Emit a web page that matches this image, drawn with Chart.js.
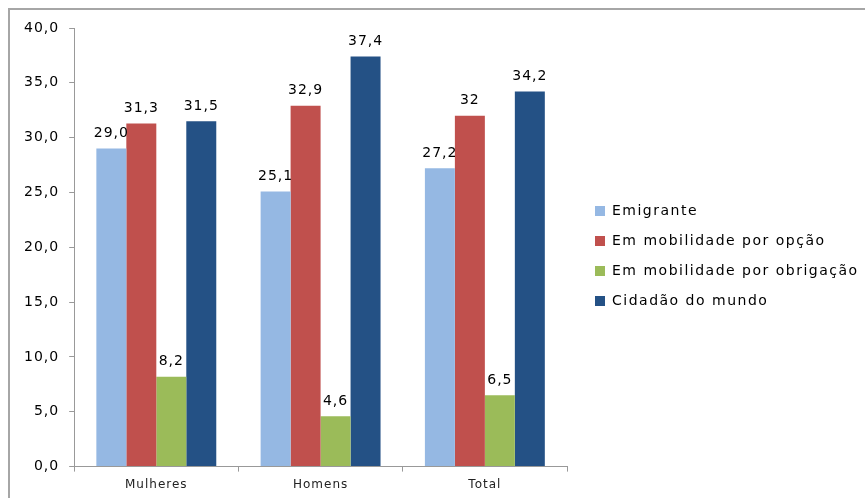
<!DOCTYPE html>
<html>
<head>
<meta charset="utf-8">
<script src="https://cdn.jsdelivr.net/npm/chart.js@4/dist/chart.umd.min.js"></script>
<style>
  html, body { margin: 0; padding: 0; background: #fff; }
  #wrap { width: 865px; height: 498px; position: relative; }
</style>
</head>
<body>
<div id="wrap"><canvas id="c"></canvas></div>
<script>
const categories = ['Mulheres', 'Homens', 'Total'];
const seriesNames = ['Emigrante', 'Em mobilidade por opção', 'Em mobilidade por obrigação', 'Cidadão do mundo'];
const emigrante = [29.0, 25.1, 27.2];
const opcao = [31.3, 32.9, 32.0];
const obrigacao = [8.2, 4.6, 6.5];
const cidadao = [31.5, 37.4, 34.2];
const emigranteLabels = ['29,0', '25,1', '27,2'];
const opcaoLabels = ['31,3', '32,9', '32'];
const obrigacaoLabels = ['8,2', '4,6', '6,5'];
const cidadaoLabels = ['31,5', '37,4', '34,2'];
const yTicks = [0, 5, 10, 15, 20, 25, 30, 35, 40];

const colors = ['#95B8E3', '#C0504D', '#9BBB59', '#245185'];
const allValues = [emigrante, opcao, obrigacao, cidadao];
const allLabels = [emigranteLabels, opcaoLabels, obrigacaoLabels, cidadaoLabels];

const FONT = 'DejaVu Sans';

const framePlugin = {
  id: 'frame',
  beforeInit(chart) { chart.ctx.letterSpacing = '1px'; },
  beforeLayout(chart) { chart.ctx.letterSpacing = '1px'; },
  beforeDraw(chart) {
    const ctx = chart.ctx;
    ctx.letterSpacing = '1px';
    ctx.save();
    ctx.strokeStyle = '#a6a6a6';
    ctx.lineWidth = 2;
    ctx.beginPath();
    ctx.moveTo(9, 498);
    ctx.lineTo(9, 9);
    ctx.lineTo(865, 9);
    ctx.stroke();
    ctx.restore();
  }
};

const labelPlugin = {
  id: 'valueLabels',
  afterDatasetsDraw(chart) {
    const ctx = chart.ctx;
    ctx.save();
    ctx.letterSpacing = '1px';
    ctx.font = '14px "' + FONT + '"';
    ctx.fillStyle = '#000';
    ctx.textAlign = 'center';
    ctx.textBaseline = 'bottom';
    chart.data.datasets.forEach((ds, i) => {
      const meta = chart.getDatasetMeta(i);
      meta.data.forEach((bar, j) => {
        ctx.fillText(allLabels[i][j], bar.x, bar.y - 8);
      });
    });
    ctx.restore();
  }
};

const legendPlugin = {
  id: 'sideLegend',
  afterDraw(chart) {
    const ctx = chart.ctx;
    const area = chart.chartArea;
    const x0 = area.right + 28;
    const midY = 256;
    const rowH = 30;
    const n = chart.data.datasets.length;
    ctx.save();
    ctx.letterSpacing = '1.5px';
    ctx.font = '14px "' + FONT + '"';
    ctx.textAlign = 'left';
    ctx.textBaseline = 'middle';
    chart.data.datasets.forEach((ds, i) => {
      const y = midY + (i - (n - 1) / 2) * rowH;
      ctx.fillStyle = ds.backgroundColor;
      ctx.fillRect(x0, y - 5, 10, 10);
      ctx.fillStyle = '#000';
      ctx.fillText(ds.label, x0 + 17, y);
    });
    ctx.restore();
  }
};

new Chart(document.getElementById('c'), {
  type: 'bar',
  data: {
    labels: categories,
    datasets: seriesNames.map((name, i) => ({
      label: name,
      data: allValues[i],
      backgroundColor: colors[i],
      borderWidth: 0,
      categoryPercentage: 0.73,
      barPercentage: 1.0
    }))
  },
  options: {
    responsive: true,
    maintainAspectRatio: false,
    animation: false,
    devicePixelRatio: 1,
    layout: { padding: { top: 28, left: 14, right: 298, bottom: 0 } },
    plugins: {
      legend: { display: false },
      tooltip: { enabled: false }
    },
    scales: {
      x: {
        grid: { display: true, drawOnChartArea: false, tickLength: 5, color: '#999', offset: true },
        border: { display: true, color: '#999' },
        ticks: { color: '#222', font: { family: FONT, size: 12 }, padding: 6 }
      },
      y: {
        min: 0,
        max: 40,
        afterBuildTicks(scale) { scale.ticks = yTicks.map(v => ({ value: v })); },
        grid: { display: true, drawOnChartArea: false, tickLength: 5, color: '#999' },
        border: { display: true, color: '#999' },
        ticks: {
          color: '#000',
          font: { family: FONT, size: 14 },
          padding: 10,
          callback: v => v.toFixed(1).replace('.', ',')
        }
      }
    }
  },
  plugins: [framePlugin, labelPlugin, legendPlugin]
});
</script>
</body>
</html>
